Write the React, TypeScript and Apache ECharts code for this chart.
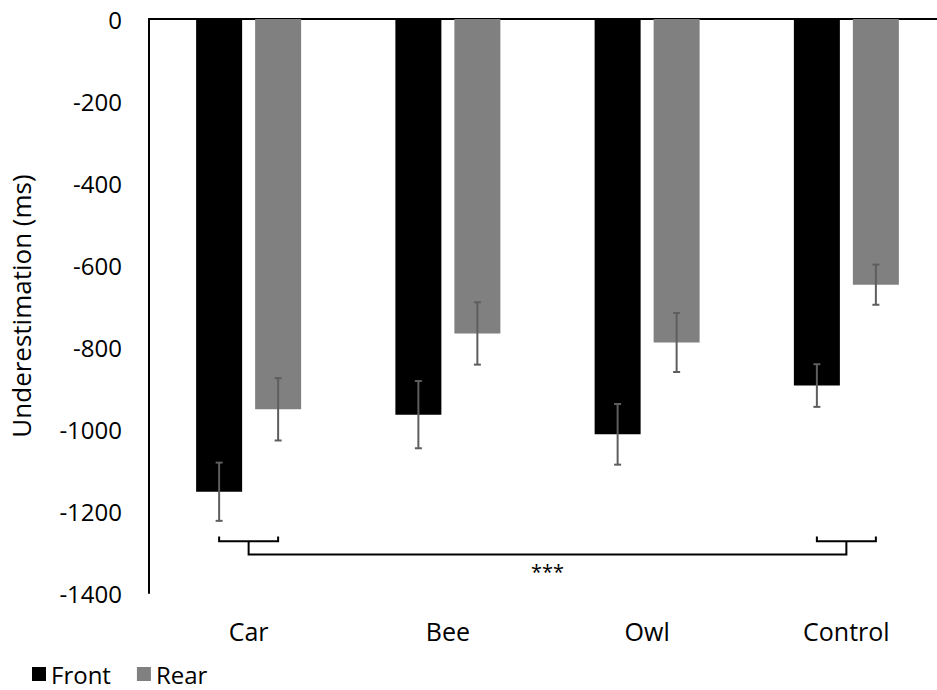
import React, { useEffect, useRef } from "react";
import * as echarts from "echarts";

const categories = ["Car", "Bee", "Owl", "Control"];
const frontValues = [-1153, -965, -1013, -894];
const rearValues = [-952, -767, -789, -648];
const frontErrors = [71, 82, 74, 52];
const rearErrors = [76, 76, 72, 49];
const yTicks = { min: -1400, max: 0, interval: 200 };
// bracket: [fromCategory, toCategory, tickTop, tickBar, longLine, starLabelY]
const brackets = [[0, 3, -1262, -1274, -1306, -1348]];
const bracketLabels = ["***"];

const FONT = "'Open Sans', sans-serif";
const BAR_W = 46;
const BAR_GAP_PX = 13;
const OFFSET = (BAR_W + BAR_GAP_PX) / 2;

export default function App() {
  const ref = useRef<HTMLDivElement>(null);
  useEffect(() => {
    if (!ref.current) return;
    const chart = echarts.init(ref.current, undefined, { renderer: "svg" });

    const errRender = (sign: number) => (params: any, api: any) => {
      const idx = api.value(0);
      const lo = api.coord([idx, api.value(1)]);
      const hi = api.coord([idx, api.value(2)]);
      const x = lo[0] + sign * OFFSET;
      const cap = 3.5;
      const style = { stroke: "#5e5e5e", lineWidth: 2, fill: "none" };
      return {
        type: "group",
        children: [
          { type: "line", shape: { x1: x, y1: lo[1], x2: x, y2: hi[1] }, style },
          { type: "line", shape: { x1: x - cap, y1: lo[1], x2: x + cap, y2: lo[1] }, style },
          { type: "line", shape: { x1: x - cap, y1: hi[1], x2: x + cap, y2: hi[1] }, style },
        ],
      };
    };

    chart.setOption({
      animation: false,
      textStyle: { fontFamily: FONT },
      grid: {
        left: 149,
        top: 19,
        right: -9,
        bottom: 97,
        containLabel: false,
        outerBoundsMode: "none",
      },
      legend: {
        data: ["Front", "Rear"],
        left: 32,
        top: 662,
        icon: "rect",
        itemWidth: 14,
        itemHeight: 14,
        itemGap: 26,
        padding: 0,
        textStyle: { fontSize: 24, lineHeight: 24, color: "#000", fontFamily: FONT },
      },
      xAxis: [
        {
          type: "category",
          data: categories,
          position: "bottom",
          axisLine: { show: false, onZero: false },
          axisTick: { show: false },
          axisLabel: { fontSize: 25, color: "#000", margin: 25, fontFamily: FONT },
        },
        {
          type: "category",
          data: categories,
          position: "top",
          axisLine: { show: true, onZero: false, lineStyle: { color: "#000", width: 2 } },
          axisTick: { show: false },
          axisLabel: { show: false },
        },
      ],
      yAxis: {
        type: "value",
        min: yTicks.min,
        max: yTicks.max,
        interval: yTicks.interval,
        name: "Underestimation (ms)",
        nameLocation: "middle",
        nameGap: 114,
        nameRotate: 90,
        nameTextStyle: { fontSize: 26, lineHeight: 28, color: "#000", fontFamily: FONT },
        axisLine: { show: true, lineStyle: { color: "#000", width: 2 } },
        axisTick: { show: false },
        splitLine: { show: false },
        axisLabel: {
          fontSize: 24,
          color: "#000",
          margin: 27,
          fontFamily: FONT,
          formatter: (v: number) => String(v),
        },
      },
      series: [
        {
          name: "Front",
          type: "bar",
          data: frontValues,
          barWidth: BAR_W,
          barGap: (BAR_GAP_PX / BAR_W) * 100 + "%",
          itemStyle: { color: "#000" },
        },
        {
          name: "Rear",
          type: "bar",
          data: rearValues,
          barWidth: BAR_W,
          itemStyle: { color: "#808080" },
        },
        {
          type: "custom",
          renderItem: errRender(-1),
          encode: { x: 0, y: [1, 2] },
          data: frontValues.map((v, i) => [i, v - frontErrors[i], v + frontErrors[i]]),
          z: 5,
        },
        {
          type: "custom",
          renderItem: errRender(1),
          encode: { x: 0, y: [1, 2] },
          data: rearValues.map((v, i) => [i, v - rearErrors[i], v + rearErrors[i]]),
          z: 5,
        },
        {
          type: "custom",
          encode: { x: [0, 1], y: [2, 3, 4, 5] },
          data: brackets,
          z: 5,
          renderItem: (params: any, api: any) => {
            const a = api.value(0);
            const b = api.value(1);
            const pTop = api.coord([a, api.value(2)]);
            const pBar = api.coord([a, api.value(3)]);
            const pLine = api.coord([a, api.value(4)]);
            const pStar = api.coord([a, api.value(5)]);
            const qTop = api.coord([b, api.value(2)]);
            const style = { stroke: "#000", lineWidth: 2, fill: "none" };
            const x0 = pTop[0];
            const x1 = qTop[0];
            const yT = pTop[1];
            const yB = pBar[1];
            const yL = pLine[1];
            return {
              type: "group",
              children: [
                {
                  type: "polyline",
                  shape: { points: [[x0 - OFFSET, yT], [x0 - OFFSET, yB], [x0 + OFFSET, yB], [x0 + OFFSET, yT]] },
                  style,
                },
                {
                  type: "polyline",
                  shape: { points: [[x1 - OFFSET, yT], [x1 - OFFSET, yB], [x1 + OFFSET, yB], [x1 + OFFSET, yT]] },
                  style,
                },
                {
                  type: "polyline",
                  shape: { points: [[x0, yB], [x0, yL], [x1, yL], [x1, yB]] },
                  style,
                },
                {
                  type: "text",
                  style: {
                    text: bracketLabels[params.dataIndex],
                    x: (x0 + x1) / 2,
                    y: pStar[1],
                    align: "center",
                    verticalAlign: "middle",
                    fontSize: 20,
                    fontFamily: FONT,
                    fill: "#000",
                  },
                },
              ],
            };
          },
        },
      ],
    });
    return () => chart.dispose();
  }, []);
  return (
    <div
      ref={ref}
      style={{ position: "fixed", left: 0, top: 0, width: 937, height: 690, background: "#fff" }}
    />
  );
}
